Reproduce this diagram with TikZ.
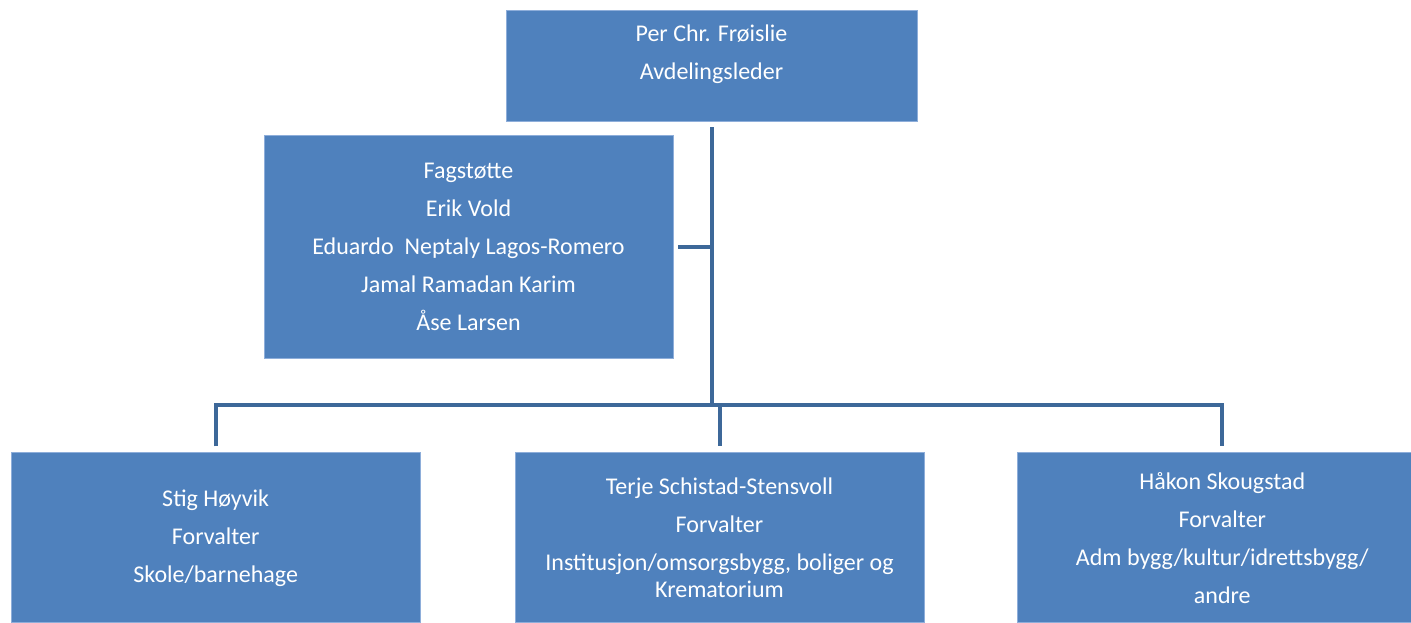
\documentclass[tikz,border=0pt]{standalone}
\usepackage{fontspec}
\setmainfont{Carlito}
\usetikzlibrary{positioning}
\definecolor{boxblue}{HTML}{4F81BD}
\definecolor{boxedge}{HTML}{8EAEDA}
\definecolor{lineblue}{HTML}{3D6899}
\tikzset{
  bx/.style={rectangle, minimum width=409pt, inner sep=0pt, text centered, align=center, draw=boxedge, line width=0.8pt, fill=boxblue, text=white, font=\fontsize{24}{38}\selectfont},
  ln/.style={draw=lineblue, line width=4pt},
  node distance=14pt
}
\begin{document}
\begin{tikzpicture}[x=1pt,y=-1pt]
	\useasboundingbox (0,0) rectangle (1411,623);
	\node[bx, minimum width=411pt, minimum height=111pt] (ledr) at (711.5,65.5) {Per Chr. Frøislie\\Avdelingsleder\\[-11pt]\mbox{}};
	\node[bx, minimum height=223pt, below=of ledr, xshift=-243pt] (fag) {Fagstøtte\\Erik Vold\\Eduardo\ \ Neptaly Lagos-Romero\\Jamal\ Ramadan Karim\\Åse Larsen};
	\node[bx, minimum height=170pt, below=331pt of ledr, xshift=8pt] (terje) {Terje Schistad-Stensvoll\\Forvalter\\Institusjon/omsorgsbygg, boliger og\\[-11pt]Krematorium};
	\node[bx, minimum height=170pt, left=94pt of terje] (stig) {Stig Høyvik\\Forvalter\\Skole/barnehage};
	\node[bx, minimum height=170pt, right=93pt of terje] (hakon) {Håkon Skougstad\\Forvalter\\Adm bygg/kultur/idrettsbygg/\\andre};
	%
	\coordinate (hub) at (ledr.south |- 0,405);
	\draw[ln] ([yshift=-6pt]ledr.south) -- (hub);
	\draw[ln] ([xshift=5pt]fag.east) -- (fag.east -| ledr.south);
	\draw[ln] ([yshift=6pt]stig.north) -- (stig.north |- hub) -- (hakon.north |- hub) -- ([yshift=6pt]hakon.north);
	\draw[ln] (hub -| terje.north) -- ([yshift=6pt]terje.north);
\end{tikzpicture}
\end{document}
